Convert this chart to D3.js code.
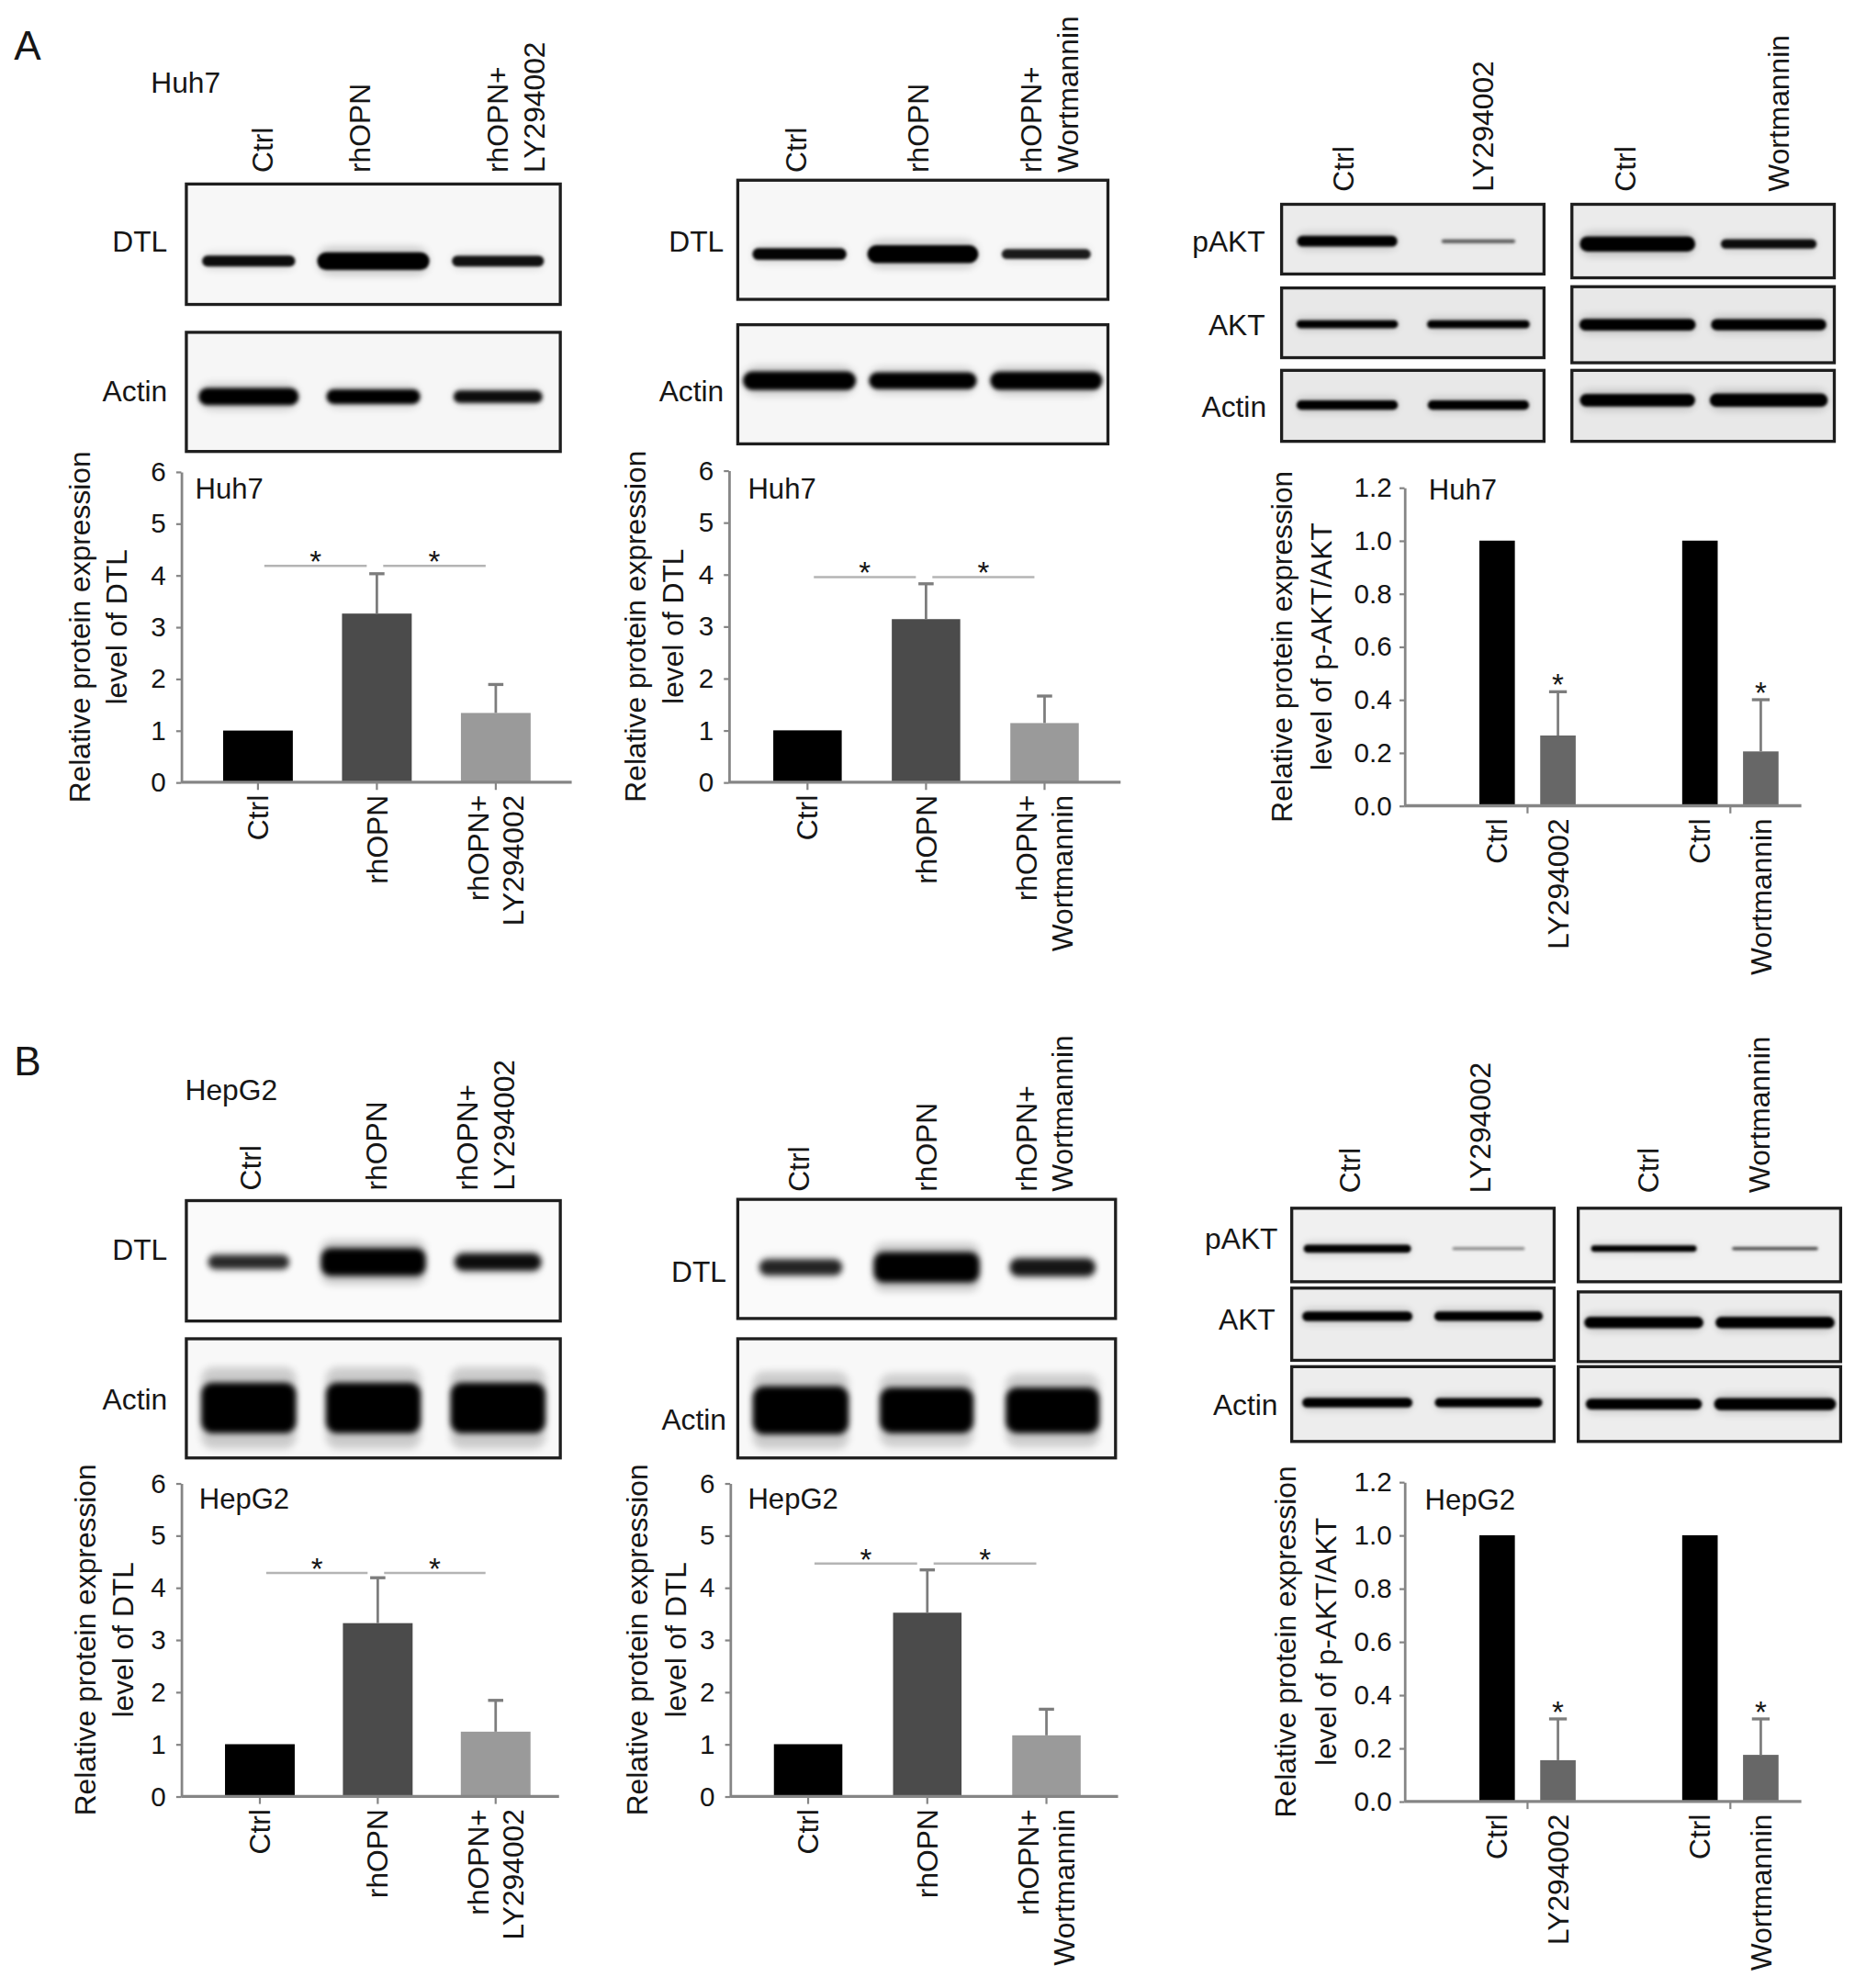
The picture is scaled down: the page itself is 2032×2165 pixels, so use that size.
<!DOCTYPE html>
<html><head><meta charset="utf-8"><title>DTL / pAKT figure</title>
<script src="https://cdn.jsdelivr.net/npm/d3@7/dist/d3.min.js"></script>
<style>
html,body{margin:0;padding:0;background:#fff;}
svg{display:block;}
text{font-family:"Liberation Sans",Arial,Helvetica,sans-serif;fill:#161616;}
</style></head><body>
<svg id="fig" width="2032" height="2165" viewBox="0 0 1472 1568"></svg>
<script>
// ================= DATA =================
const dtlCatsLY = [["Ctrl"], ["rhOPN"], ["rhOPN+", "LY294002"]];
const dtlCatsW  = [["Ctrl"], ["rhOPN"], ["rhOPN+", "Wortmannin"]];
const paktGroups = ["LY294002", "Wortmannin"];
const paktCats = [["Ctrl", "LY294002"], ["Ctrl", "Wortmannin"]];
const dtlTicks = [0, 1, 2, 3, 4, 5, 6];
const paktTicks = [0, 0.2, 0.4, 0.6, 0.8, 1.0, 1.2];
const dtlYLabel = ["Relative protein expression", "level of DTL"];
const paktYLabel = ["Relative protein expression", "level of p-AKT/AKT"];
const sigPairs = [[0, 1], [1, 2]];

// bar values (mean, error, height of significance line)
const huh7LYMean = [1.00, 3.26, 1.34];  const huh7LYErr = [0, 0.77, 0.55];  const huh7LYSig = 4.18;
const huh7WMean  = [1.00, 3.14, 1.14];  const huh7WErr  = [0, 0.68, 0.52];  const huh7WSig  = 3.95;
const hepg2LYMean = [1.00, 3.32, 1.24]; const hepg2LYErr = [0, 0.87, 0.60]; const hepg2LYSig = 4.28;
const hepg2WMean  = [1.00, 3.52, 1.17]; const hepg2WErr  = [0, 0.82, 0.50]; const hepg2WSig  = 4.46;
const huh7PaktMean  = [[1.00, 0.265], [1.00, 0.205]]; const huh7PaktErr  = [[0, 0.165], [0, 0.195]];
const hepg2PaktMean = [[1.00, 0.155], [1.00, 0.175]]; const hepg2PaktErr = [[0, 0.155], [0, 0.135]];

// western blot band intensities (relative, per lane)
const huh7LY_DTL = [0.62, 1.0, 0.6];   const huh7LY_Actin = [0.85, 0.72, 0.62];
const huh7W_DTL  = [0.66, 1.0, 0.56];  const huh7W_Actin  = [0.92, 0.82, 0.9];
const huh7_pAKT_LY = [0.85, 0.3];  const huh7_AKT_LY = [0.78, 0.8];  const huh7_Actin_LY = [0.82, 0.82];
const huh7_pAKT_W  = [1.0, 0.62];  const huh7_AKT_W  = [0.92, 0.9];  const huh7_Actin_W  = [0.9, 0.95];
const hepg2LY_DTL = [0.5, 1.0, 0.62];  const hepg2LY_Actin = [1.0, 1.0, 1.0];
const hepg2W_DTL  = [0.52, 1.0, 0.58]; const hepg2W_Actin  = [1.0, 0.95, 0.95];
const hepg2_pAKT_LY = [0.8, 0.14]; const hepg2_AKT_LY = [0.85, 0.82]; const hepg2_Actin_LY = [0.85, 0.8];
const hepg2_pAKT_W  = [0.72, 0.36]; const hepg2_AKT_W = [0.9, 0.9];  const hepg2_Actin_W  = [0.85, 0.95];

// ================= STYLE =================
const FS = 23;        // labels
const TFS = 21.5;     // tick labels
const dtlColors = ["#000000", "#4b4b4b", "#9a9a9a"];
const paktColors = ["#000000", "#676767"];
const axisColor = "#858585";

// ================= SETUP =================
const svg = d3.select("#fig");
const defs = svg.append("defs");
[1, 1.6, 2.4, 3.2].forEach((s, i) => {
  defs.append("filter").attr("id", "blur" + i).attr("filterUnits", "userSpaceOnUse")
    .attr("x", 0).attr("y", 0).attr("width", 1472).attr("height", 1568)
    .append("feGaussianBlur").attr("stdDeviation", s);
});
let clipN = 0;

function vText(g, x, y, lines, anchor, gap) {
  const n = lines.length;
  lines.forEach((s, i) => {
    const xx = x + (i - (n - 1) / 2) * gap;
    g.append("text").attr("transform", `translate(${xx},${y}) rotate(-90)`)
      .attr("text-anchor", anchor).attr("dy", "0.35em").attr("font-size", FS).text(s);
  });
}

// ---------- Western blot panel ----------
function blot(cfg, intens) {
  const [bx, by, bw, bh] = cfg.box;
  const id = "clip" + (clipN++);
  defs.append("clipPath").attr("id", id).append("rect")
    .attr("x", bx).attr("y", by).attr("width", bw).attr("height", bh);
  const g = svg.append("g");
  g.append("rect").attr("x", bx).attr("y", by).attr("width", bw).attr("height", bh).attr("fill", cfg.bg);
  const lane = d3.scaleBand().domain(d3.range(intens.length)).range([bx, bx + bw]);
  const cy = by + bh * cfg.cy;
  const wid = d => lane.bandwidth() * cfg.wf * (0.55 + 0.45 * d);
  const hgt = d => Math.max(2.2, cfg.h * d);
  const rmax = cfg.rmax || 100;
  const bands = g.append("g").attr("clip-path", `url(#${id})`);
  // halo
  bands.selectAll("rect.halo").data(intens).join("rect").attr("class", "halo")
    .attr("x", (d, i) => lane(i) + lane.bandwidth() / 2 - wid(d) / 2)
    .attr("y", d => cy - hgt(d) * 0.8)
    .attr("width", d => wid(d)).attr("height", d => hgt(d) * 1.6)
    .attr("rx", d => Math.min(rmax, hgt(d) * 0.8))
    .attr("fill", "#000").attr("opacity", d => 0.18 * d)
    .attr("filter", "url(#blur3)");
  bands.selectAll("rect.core").data(intens).join("rect").attr("class", "core")
    .attr("x", (d, i) => lane(i) + lane.bandwidth() / 2 - wid(d) / 2)
    .attr("y", d => cy - hgt(d) / 2)
    .attr("width", d => wid(d)).attr("height", d => hgt(d))
    .attr("rx", d => Math.min(rmax, hgt(d) / 2))
    .attr("fill", "#000").attr("opacity", d => Math.min(1, 0.32 + d))
    .attr("filter", `url(#blur${cfg.blur})`);
  g.append("rect").attr("x", bx).attr("y", by).attr("width", bw).attr("height", bh)
    .attr("fill", "none").attr("stroke", "#1e1e1e").attr("stroke-width", 2.4);
  g.append("text").attr("x", cfg.lab[0]).attr("y", cfg.lab[1]).attr("dy", "0.35em")
    .attr("text-anchor", "end").attr("font-size", FS).text(cfg.name);
}

// ---------- DTL bar chart ----------
function dtlChart(L, cats, mean, err, sig, tag) {
  const g = svg.append("g");
  const y = d3.scaleLinear().domain([0, 6]).range([L.y0, L.yTop]);
  const n = cats.length;
  const pad = 1 - L.barW / L.step;
  const x = d3.scaleBand().domain(d3.range(n))
    .range([L.c0 - L.step / 2, L.c0 - L.step / 2 + n * L.step]).paddingInner(pad).paddingOuter(pad / 2);
  const cx = i => x(i) + x.bandwidth() / 2;

  const ya = g.append("g").attr("transform", `translate(${L.ax},0)`)
    .call(d3.axisLeft(y).tickValues(dtlTicks).tickFormat(d3.format("d")).tickSize(4).tickSizeOuter(0).tickPadding(8));
  ya.attr("font-size", TFS);
  ya.select(".domain").attr("stroke", axisColor).attr("stroke-width", 2);
  ya.selectAll(".tick line").attr("stroke", axisColor).attr("stroke-width", 1.6);

  const xa = g.append("g").attr("transform", `translate(0,${L.y0})`)
    .call(d3.axisBottom(x).tickFormat("").tickSize(6).tickSizeOuter(0));
  xa.select(".domain").remove();
  xa.selectAll(".tick line").attr("stroke", axisColor).attr("stroke-width", 1.6);

  g.selectAll("rect.bar").data(mean).join("rect").attr("class", "bar")
    .attr("x", (d, i) => x(i)).attr("y", d => y(d))
    .attr("width", x.bandwidth()).attr("height", d => y(0) - y(d))
    .attr("fill", (d, i) => dtlColors[i]);

  g.append("line").attr("x1", L.ax).attr("x2", L.axEnd).attr("y1", y(0)).attr("y2", y(0))
    .attr("stroke", axisColor).attr("stroke-width", 2.4);

  const eb = g.selectAll("g.err").data(mean.map((m, i) => ({ m, e: err[i], i })).filter(d => d.e > 0))
    .join("g").attr("class", "err");
  eb.append("line").attr("x1", d => cx(d.i)).attr("x2", d => cx(d.i))
    .attr("y1", d => y(d.m)).attr("y2", d => y(d.m + d.e)).attr("stroke", "#7d7d7d").attr("stroke-width", 2);
  eb.append("line").attr("x1", d => cx(d.i) - 6).attr("x2", d => cx(d.i) + 6)
    .attr("y1", d => y(d.m + d.e)).attr("y2", d => y(d.m + d.e)).attr("stroke", "#7d7d7d").attr("stroke-width", 2.4);

  sigPairs.forEach(([a, b]) => {
    const x1 = cx(a) + 5, x2 = cx(b) - 8;
    g.append("line").attr("x1", x1).attr("x2", x2).attr("y1", y(sig)).attr("y2", y(sig))
      .attr("stroke", "#b4b4b4").attr("stroke-width", 1.8);
    g.append("text").attr("x", (x1 + x2) / 2).attr("y", y(sig) + 5).attr("text-anchor", "middle")
      .attr("font-size", 24).text("*");
  });

  g.append("text").attr("x", L.tag[0]).attr("y", L.tag[1]).attr("font-size", 22.5).text(tag);
  cats.forEach((lines, i) => vText(g, cx(i), L.y0 + 10, lines, "end", 28));
  dtlYLabel.forEach((s, i) => {
    g.append("text").attr("transform", `translate(${L.ylab[i]},${(L.y0 + L.yTop) / 2}) rotate(-90)`)
      .attr("text-anchor", "middle").attr("dy", "0.35em").attr("font-size", FS).text(s);
  });
}

// ---------- pAKT/AKT bar chart ----------
function paktChart(L, mean, err, tag) {
  const g = svg.append("g");
  const y = d3.scaleLinear().domain([0, 1.2]).range([L.y0, L.yTop]);
  const gx = d3.scaleBand().domain(d3.range(paktGroups.length))
    .range([L.g0 - L.gstep / 2, L.g0 - L.gstep / 2 + paktGroups.length * L.gstep]);
  const pI = 1 - L.barW / (2 * L.off);
  const inner = d3.scaleBand().domain([0, 1])
    .range([L.gstep / 2 - 2 * L.off, L.gstep / 2 + 2 * L.off]).paddingInner(pI).paddingOuter(pI / 2);
  const cx = (gi, j) => gx(gi) + inner(j) + inner.bandwidth() / 2;

  const ya = g.append("g").attr("transform", `translate(${L.ax},0)`)
    .call(d3.axisLeft(y).tickValues(paktTicks).tickFormat(d3.format(".1f")).tickSize(4).tickSizeOuter(0).tickPadding(6));
  ya.attr("font-size", TFS);
  ya.select(".domain").attr("stroke", axisColor).attr("stroke-width", 2);
  ya.selectAll(".tick line").attr("stroke", axisColor).attr("stroke-width", 1.6);

  const xa = g.append("g").attr("transform", `translate(0,${L.y0})`)
    .call(d3.axisBottom(gx).tickFormat("").tickSize(6).tickSizeOuter(0));
  xa.select(".domain").remove();
  xa.selectAll(".tick line").attr("stroke", axisColor).attr("stroke-width", 1.6);

  const flat = [];
  mean.forEach((grp, gi) => grp.forEach((m, j) => flat.push({ gi, j, m, e: err[gi][j], label: paktCats[gi][j] })));

  g.selectAll("rect.bar").data(flat).join("rect").attr("class", "bar")
    .attr("x", d => gx(d.gi) + inner(d.j)).attr("y", d => y(d.m))
    .attr("width", inner.bandwidth()).attr("height", d => y(0) - y(d.m))
    .attr("fill", d => paktColors[d.j]);

  g.append("line").attr("x1", L.ax).attr("x2", L.axEnd).attr("y1", y(0)).attr("y2", y(0))
    .attr("stroke", axisColor).attr("stroke-width", 2.4);

  const eb = g.selectAll("g.err").data(flat.filter(d => d.e > 0)).join("g").attr("class", "err");
  eb.append("line").attr("x1", d => cx(d.gi, d.j)).attr("x2", d => cx(d.gi, d.j))
    .attr("y1", d => y(d.m)).attr("y2", d => y(d.m + d.e)).attr("stroke", "#7d7d7d").attr("stroke-width", 2);
  eb.append("line").attr("x1", d => cx(d.gi, d.j) - 7).attr("x2", d => cx(d.gi, d.j) + 7)
    .attr("y1", d => y(d.m + d.e)).attr("y2", d => y(d.m + d.e)).attr("stroke", "#7d7d7d").attr("stroke-width", 2.4);
  eb.append("text").attr("x", d => cx(d.gi, d.j)).attr("y", d => y(d.m + d.e) + 3)
    .attr("text-anchor", "middle").attr("font-size", 24).text("*");

  g.append("text").attr("x", L.tag[0]).attr("y", L.tag[1]).attr("font-size", 22.5).text(tag);
  flat.forEach(d => vText(g, cx(d.gi, d.j), L.y0 + 10, [d.label], "end", 28));
  paktYLabel.forEach((s, i) => {
    g.append("text").attr("transform", `translate(${L.ylab[i]},${(L.y0 + L.yTop) / 2}) rotate(-90)`)
      .attr("text-anchor", "middle").attr("dy", "0.35em").attr("font-size", FS).text(s);
  });
}

function colLabels(xs, yb, cats) {
  const g = svg.append("g");
  cats.forEach((lines, i) => vText(g, xs[i], yb, lines, "start", 28.5));
}

// ================= PANEL LETTERS & CELL LINES =================
svg.append("text").attr("x", 11).attr("y", 47).attr("font-size", 32).text("A");
svg.append("text").attr("x", 11).attr("y", 848).attr("font-size", 32).text("B");
svg.append("text").attr("x", 119).attr("y", 73).attr("font-size", FS).text("Huh7");
svg.append("text").attr("x", 146).attr("y", 868).attr("font-size", FS).text("HepG2");

// ================= PANEL A =================
colLabels([207, 284, 407], 136, dtlCatsLY);
blot({ box: [147, 145, 295, 95], cy: 0.64, h: 14, wf: 0.9, bg: "#f7f7f7", blur: 0, name: "DTL", lab: [132, 190] }, huh7LY_DTL);
blot({ box: [147, 262, 295, 94], cy: 0.54, h: 16, wf: 0.86, bg: "#f6f6f6", blur: 1, name: "Actin", lab: [132, 308] }, huh7LY_Actin);
dtlChart({ ax: 143, axEnd: 451, y0: 617, yTop: 372, c0: 203.5, step: 93.8, barW: 55, ylab: [63, 92], tag: [154, 393] },
  dtlCatsLY, huh7LYMean, huh7LYErr, huh7LYSig, "Huh7");

colLabels([628, 724, 828], 136, dtlCatsW);
blot({ box: [582, 142, 292, 94], cy: 0.62, h: 14, wf: 0.9, bg: "#f7f7f7", blur: 0, name: "DTL", lab: [571, 190] }, huh7W_DTL);
blot({ box: [582, 256, 292, 94], cy: 0.47, h: 16, wf: 0.95, bg: "#f6f6f6", blur: 1, name: "Actin", lab: [571, 308] }, huh7W_Actin);
dtlChart({ ax: 575, axEnd: 884, y0: 617, yTop: 371, c0: 637, step: 93.5, barW: 54, ylab: [501, 531], tag: [590, 393] },
  dtlCatsW, huh7WMean, huh7WErr, huh7WSig, "Huh7");

colLabels([1060, 1170, 1282, 1403], 151, [["Ctrl"], ["LY294002"], ["Ctrl"], ["Wortmannin"]]);
blot({ box: [1011, 161, 207, 55], cy: 0.53, h: 10, wf: 0.82, bg: "#ebebeb", blur: 0, name: "pAKT", lab: [998, 190] }, huh7_pAKT_LY);
blot({ box: [1240, 161, 207, 58], cy: 0.54, h: 12, wf: 0.88, bg: "#ebebeb", blur: 0, name: "", lab: [0, 0] }, huh7_pAKT_W);
blot({ box: [1011, 227, 207, 55], cy: 0.52, h: 8, wf: 0.86, bg: "#e8e8e8", blur: 0, name: "AKT", lab: [998, 256] }, huh7_AKT_LY);
blot({ box: [1240, 226, 207, 60], cy: 0.5, h: 10, wf: 0.92, bg: "#e8e8e8", blur: 0, name: "", lab: [0, 0] }, huh7_AKT_W);
blot({ box: [1011, 292, 207, 56], cy: 0.49, h: 9, wf: 0.84, bg: "#e8e8e8", blur: 0, name: "Actin", lab: [999, 321] }, huh7_Actin_LY);
blot({ box: [1240, 292, 207, 56], cy: 0.42, h: 11, wf: 0.92, bg: "#e8e8e8", blur: 0, name: "", lab: [0, 0] }, huh7_Actin_W);
paktChart({ ax: 1108, axEnd: 1421, y0: 635.5, yTop: 384.5, g0: 1205, gstep: 160, off: 24, barW: 28, ylab: [1011, 1042], tag: [1127, 394] },
  huh7PaktMean, huh7PaktErr, "Huh7");

// ================= PANEL B =================
colLabels([198, 297, 383], 939, dtlCatsLY);
blot({ box: [147, 947, 295, 95], cy: 0.51, h: 22, wf: 0.84, bg: "#fafafa", blur: 2, rmax: 8, name: "DTL", lab: [132, 986] }, hepg2LY_DTL);
blot({ box: [147, 1056, 295, 94], cy: 0.58, h: 40, wf: 0.76, bg: "#f8f8f8", blur: 2, rmax: 9, name: "Actin", lab: [132, 1104] }, hepg2LY_Actin);
dtlChart({ ax: 143, axEnd: 441, y0: 1417, yTop: 1170, c0: 205, step: 93, barW: 55, ylab: [67, 97], tag: [157, 1190] },
  dtlCatsLY, hepg2LYMean, hepg2LYErr, hepg2LYSig, "HepG2");

colLabels([630, 731, 824], 940, dtlCatsW);
blot({ box: [582, 946, 298, 94], cy: 0.57, h: 24, wf: 0.84, bg: "#fafafa", blur: 2, rmax: 8, name: "DTL", lab: [573, 1003] }, hepg2W_DTL);
blot({ box: [582, 1056, 298, 94], cy: 0.6, h: 38, wf: 0.76, bg: "#f8f8f8", blur: 2, rmax: 9, name: "Actin", lab: [573, 1120] }, hepg2W_Actin);
dtlChart({ ax: 576, axEnd: 882, y0: 1417, yTop: 1170, c0: 637.5, step: 94, barW: 54, ylab: [503, 533], tag: [590, 1190] },
  dtlCatsW, hepg2WMean, hepg2WErr, hepg2WSig, "HepG2");

colLabels([1065, 1168, 1300, 1388], 941, [["Ctrl"], ["LY294002"], ["Ctrl"], ["Wortmannin"]]);
blot({ box: [1019, 953, 207, 58], cy: 0.55, h: 8, wf: 0.9, bg: "#f0f0f0", blur: 0, name: "pAKT", lab: [1008, 977] }, hepg2_pAKT_LY);
blot({ box: [1245, 953, 207, 58], cy: 0.55, h: 7, wf: 0.92, bg: "#f0f0f0", blur: 0, name: "", lab: [0, 0] }, hepg2_pAKT_W);
blot({ box: [1019, 1016, 207, 57], cy: 0.39, h: 9, wf: 0.9, bg: "#ececec", blur: 0, name: "AKT", lab: [1006, 1041] }, hepg2_AKT_LY);
blot({ box: [1245, 1019, 207, 55], cy: 0.44, h: 10, wf: 0.95, bg: "#ececec", blur: 0, name: "", lab: [0, 0] }, hepg2_AKT_W);
blot({ box: [1019, 1078, 207, 59], cy: 0.48, h: 9, wf: 0.9, bg: "#ededed", blur: 0, name: "Actin", lab: [1008, 1108] }, hepg2_Actin_LY);
blot({ box: [1245, 1078, 207, 59], cy: 0.5, h: 10, wf: 0.95, bg: "#ededed", blur: 0, name: "", lab: [0, 0] }, hepg2_Actin_W);
paktChart({ ax: 1108, axEnd: 1421, y0: 1421, yTop: 1169, g0: 1205, gstep: 160, off: 24, barW: 28, ylab: [1014, 1046], tag: [1124, 1191] },
  hepg2PaktMean, hepg2PaktErr, "HepG2");
</script></body></html>
